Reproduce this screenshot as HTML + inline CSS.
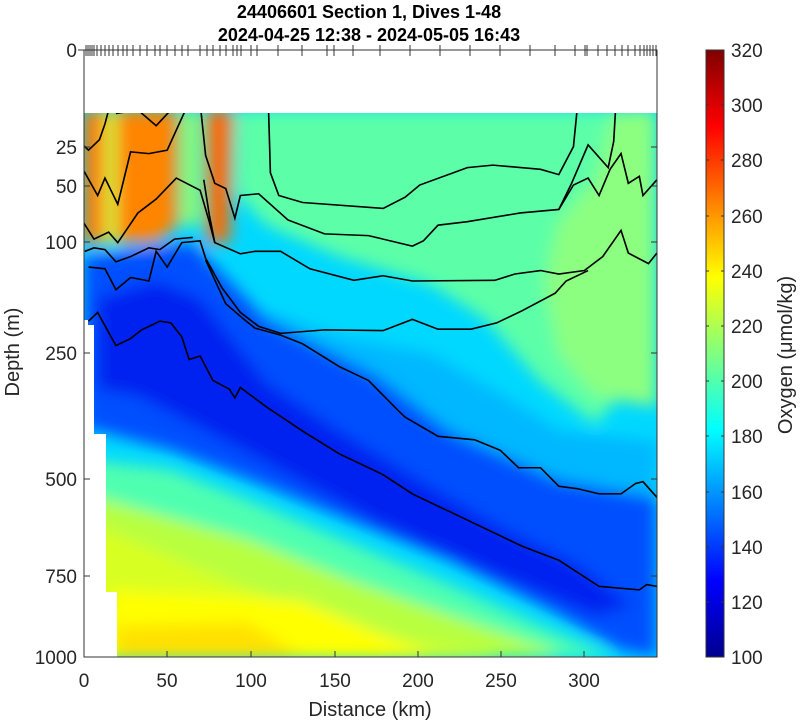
<!DOCTYPE html>
<html><head><meta charset="utf-8"><style>
html,body{margin:0;padding:0;background:#fff;}
svg{display:block;font-family:"Liberation Sans",sans-serif;}
</style></head><body>
<svg width="800" height="721" viewBox="0 0 800 721" xmlns="http://www.w3.org/2000/svg">
<defs>
<clipPath id="dc"><rect x="84" y="111" width="573" height="546"/></clipPath>
<filter id="bl" x="-20%" y="-20%" width="140%" height="140%"><feGaussianBlur stdDeviation="22"/></filter>
<linearGradient id="jet" x1="0" y1="1" x2="0" y2="0">
<stop offset="0" stop-color="#00008f"/><stop offset="0.125" stop-color="#0000ff"/>
<stop offset="0.375" stop-color="#00ffff"/><stop offset="0.625" stop-color="#ffff00"/>
<stop offset="0.875" stop-color="#ff0000"/><stop offset="1" stop-color="#800000"/>
</linearGradient>
</defs>
<text x="369" y="18" font-size="18" font-weight="bold" text-anchor="middle">24406601 Section 1, Dives 1-48</text>
<text x="369" y="41" font-size="18" font-weight="bold" text-anchor="middle">2024-04-25 12:38 - 2024-05-05 16:43</text>

<g clip-path="url(#dc)">
<g transform="translate(83,110) scale(0.366,0.349)">
<rect x="0" y="0" width="1568" height="1568" fill="#00d8ff"/>
<g filter="url(#bl)">
<polygon fill="#5cffa8" points="420,0 1568,0 1568,700 1400,900 1250,780 1100,600 950,500 700,420 500,330 420,240"/>
<polygon fill="#8cff80" points="1450,0 1568,0 1568,850 1400,820 1300,700 1260,500 1300,320 1400,200"/>
<polygon fill="#ff7800" points="0,0 60,0 60,380 0,380"/>
<polygon fill="#ff8400" points="90,0 260,0 260,330 200,380 90,380"/>
<polygon fill="#c0ff40" points="60,0 90,0 90,380 60,380"/>
<polygon fill="#90ff70" points="270,0 320,0 320,330 270,330"/>
<polygon fill="#ff6a00" points="335,0 410,0 400,380 340,380"/>
<polygon fill="#00b8ff" points="300,360 450,560 700,650 950,700 1150,820 1300,920 1568,950 1568,1200 300,1000"/>
<polygon fill="#0050ff" points="0,420 300,380 500,600 800,760 1000,920 1300,1060 1568,1110 1568,1568 1467,1547 1276,1433 1003,1289 729,1175 456,1060 238,974 33,917 0,917"/>
<polygon fill="#0020f0" points="40,540 200,490 320,540 500,780 700,920 950,1080 1150,1200 1350,1300 1500,1420 1400,1450 1100,1320 800,1180 500,1010 300,900 150,820 40,800"/>
<polygon fill="#50ffb0" points="0,1000 238,1030 456,1120 729,1240 1003,1360 1276,1490 1450,1568 0,1568"/>
<polygon fill="#b8ff40" points="0,1100 456,1232 729,1347 1003,1447 1276,1547 1300,1568 0,1568"/>
<polygon fill="#d8ff20" points="0,1175 456,1375 866,1518 1140,1576 0,1576"/>
<polygon fill="#ffff00" points="74,1375 593,1404 921,1547 930,1568 74,1568"/>
<polygon fill="#ffe000" points="90,1480 450,1470 600,1568 90,1568"/>
</g>
<g fill="none" stroke="#000" stroke-width="4.5">
<polyline points="507,0 512,180 535,245 600,265 820,282 880,250 920,215 1050,165 1120,158 1250,170 1300,185 1340,105 1350,0"/>
<polyline points="1455,0 1450,90 1435,165 1380,100 1335,210 1300,285 1195,295 1050,320 970,330 930,375 900,390 780,360 660,355 560,315 480,240 430,245 415,310 390,225 360,210 335,130 322,0"/>
<polyline points="1568,200 1530,245 1520,190 1490,210 1470,125 1440,170 1410,245 1380,195 1340,215 1300,285"/>
<polyline points="1568,410 1545,440 1490,410 1470,345 1420,420 1370,460 1300,470 1250,460 1180,470 1125,488 900,490 820,475 740,488 620,455 540,405 470,405 430,412 360,380 345,300 330,200"/>
<polyline points="0,100 15,115 30,100 45,85 60,40 70,0"/>
<polyline points="90,10 150,0 200,45 240,0"/>
<polyline points="0,170 40,245 60,195 95,270 130,120 180,125 230,115 280,0"/>
<polyline points="0,320 30,370 70,350 95,380 150,295 200,255 255,195 320,230 345,320 360,380"/>
<polyline points="5,405 30,395 60,400 90,435 130,420 180,395 210,400 250,370 300,365"/>
<polyline points="15,450 60,455 90,515 130,480 180,490 200,405 230,450 270,380 320,375 335,425 380,510 430,580 480,620 540,640 660,630 820,632 900,600 970,628 1060,628 1130,610 1200,575 1290,525 1320,490 1380,460"/>
<polyline points="335,430 390,555 440,600 470,625 540,645 600,670 700,735 780,775 860,860 880,880 970,935 1070,945 1140,975 1190,1025 1250,1025 1300,1078 1350,1085 1410,1100 1470,1100 1510,1070 1530,1065 1568,1110"/>
<polyline points="15,605 40,580 90,675 130,655 160,630 210,605 240,610 270,650 290,715 320,705 355,775 400,800 415,825 430,795 500,850 600,920 700,985 820,1045 900,1100 1000,1150 1200,1250 1300,1290 1410,1365 1520,1375 1540,1360 1568,1365"/>
</g>
</g>
<rect x="84" y="111" width="573" height="2" fill="#fff"/>
<rect x="84" y="320" width="4" height="340" fill="#fff"/>
<rect x="84" y="325" width="10" height="110" fill="#fff"/>
<rect x="84" y="434" width="22" height="160" fill="#fff"/>
<rect x="84" y="592" width="33" height="70" fill="#fff"/>
</g>

<g stroke="#333" stroke-width="1" fill="none">
<rect x="84" y="50" width="573" height="607"/>
<line x1="84" y1="147" x2="90" y2="147"/><line x1="84" y1="186" x2="90" y2="186"/><line x1="84" y1="242" x2="90" y2="242"/>
<line x1="84" y1="353" x2="90" y2="353"/><line x1="84" y1="479" x2="90" y2="479"/><line x1="84" y1="576" x2="90" y2="576"/>
<line x1="651" y1="147" x2="657" y2="147"/><line x1="651" y1="186" x2="657" y2="186"/><line x1="651" y1="242" x2="657" y2="242"/>
<line x1="651" y1="353" x2="657" y2="353"/><line x1="651" y1="479" x2="657" y2="479"/><line x1="651" y1="576" x2="657" y2="576"/>
<line x1="167" y1="657" x2="167" y2="651"/><line x1="251" y1="657" x2="251" y2="651"/><line x1="335" y1="657" x2="335" y2="651"/>
<line x1="418" y1="657" x2="418" y2="651"/><line x1="501" y1="657" x2="501" y2="651"/><line x1="584" y1="657" x2="584" y2="651"/>
<path d="M86 45V56M88 45V56M90 45V56M92 45V56M94 45V56M97 45V56M101 45V56M105 45V56M109 45V56M113 45V56M118 45V56M123 45V56M127 45V56M133 45V56M140 45V56M147 45V56M155 45V56M160 45V56M167 45V56M175 45V56M182 45V56M188 45V56M200 45V56M207 45V56M213 45V56M220 45V56M226 45V56M233 45V56M237 45V56M241 45V56M251 45V56M257 45V56M278 45V56M302 45V56M327 45V56M334 45V56M353 45V56M380 45V56M410 45V56M440 45V56M470 45V56M500 45V56M530 45V56M555 45V56M575 45V56M585 45V56M587 45V56M598 45V56M607 45V56M615 45V56M622 45V56M628 45V56M635 45V56M640 45V56M644 45V56M647 45V56M650 45V56M653 45V56M656 45V56"/>
</g>
<line x1="78" y1="50" x2="84" y2="50" stroke="#333"/>

<g font-size="19" fill="#262626" text-anchor="end">
<text x="77" y="57">0</text><text x="77" y="154">25</text><text x="77" y="193">50</text>
<text x="77" y="249">100</text><text x="77" y="360">250</text><text x="77" y="486">500</text>
<text x="77" y="583">750</text><text x="77" y="664">1000</text>
</g>
<g font-size="19" fill="#262626" text-anchor="middle">
<text x="84" y="687">0</text><text x="167" y="687">50</text><text x="251" y="687">100</text>
<text x="335" y="687">150</text><text x="418" y="687">200</text><text x="501" y="687">250</text><text x="584" y="687">300</text>
<text x="370" y="716" font-size="20">Distance (km)</text>
<text transform="translate(19,352) rotate(-90)" font-size="20">Depth (m)</text>
<text transform="translate(792,355) rotate(-90)" font-size="20">Oxygen (μmol/kg)</text>
</g>

<rect x="706" y="50" width="18" height="607" fill="url(#jet)" stroke="#333" stroke-width="1"/>
<g stroke="#333" stroke-width="1">
<path d="M706 105h3M721 105h3M706 160h3M721 160h3M706 216h3M721 216h3M706 271h3M721 271h3M706 326h3M721 326h3M706 381h3M721 381h3M706 436h3M721 436h3M706 492h3M721 492h3M706 547h3M721 547h3M706 602h3M721 602h3"/>
</g>
<g font-size="19" fill="#262626">
<text x="731" y="57">320</text><text x="731" y="112">300</text><text x="731" y="167">280</text>
<text x="731" y="223">260</text><text x="731" y="278">240</text><text x="731" y="333">220</text>
<text x="731" y="388">200</text><text x="731" y="443">180</text><text x="731" y="499">160</text>
<text x="731" y="554">140</text><text x="731" y="609">120</text><text x="731" y="664">100</text>
</g>
</svg>
</body></html>
